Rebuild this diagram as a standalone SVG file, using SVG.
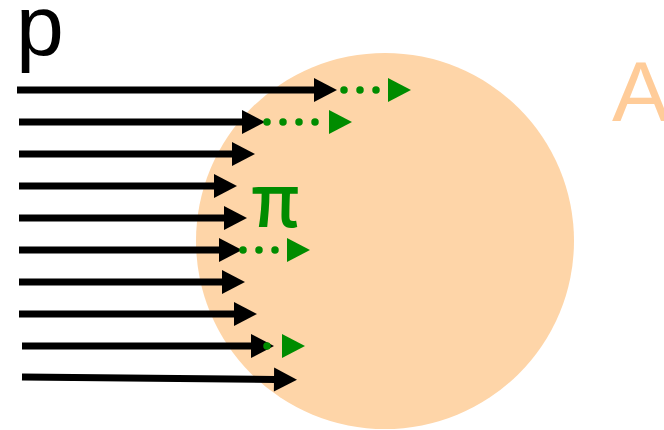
<svg xmlns="http://www.w3.org/2000/svg" width="664" height="430" viewBox="0 0 664 430">
  <defs>
    <marker id="hb" markerUnits="userSpaceOnUse" markerWidth="24" markerHeight="24" refX="1" refY="12" orient="auto" overflow="visible">
      <path d="M0,0 L23,12 L0,24 Z" fill="#000"/>
    </marker>
    <marker id="hg" markerUnits="userSpaceOnUse" markerWidth="24" markerHeight="24" refX="1" refY="12" orient="auto" overflow="visible">
      <path d="M0,0 L23,12 L0,24 Z" fill="#008c00"/>
    </marker>
  </defs>
  <style>
    .ray { stroke: #000; stroke-width: 7; fill: none; marker-end: url(#hb); }
    .out { stroke: #008c00; stroke-width: 7.5; fill: none; stroke-linecap: round; stroke-dasharray: 0 16; marker-end: url(#hg); }
    .lbl { font-family: "Liberation Sans", Arial, sans-serif; font-size: 86px; }
  </style>
  <g id="A">
    <ellipse cx="385" cy="241" rx="189" ry="188" fill="#fed5a8"/>
    <text class="lbl" x="612" y="121" fill="#ffcc99">A</text>
  </g>
  <g id="p">
    <text class="lbl" x="16" y="55" fill="#000">p</text>
  </g>
  <g id="connectors">
    <line class="ray" x1="17" y1="90" x2="315" y2="90"/>
    <line class="ray" x1="19" y1="122" x2="243" y2="122"/>
    <line class="ray" x1="19" y1="154" x2="233" y2="154"/>
    <line class="ray" x1="19" y1="186" x2="215" y2="186"/>
    <line class="ray" x1="19" y1="218" x2="225" y2="218"/>
    <line class="ray" x1="19" y1="250" x2="220" y2="250"/>
    <line class="ray" x1="19" y1="282" x2="223" y2="282"/>
    <line class="ray" x1="19" y1="314" x2="235" y2="314"/>
    <line class="ray" x1="22" y1="346" x2="252" y2="346"/>
    <line class="ray" x1="22" y1="377" x2="275" y2="379.5"/>
    <line class="out" x1="344" y1="90" x2="389" y2="90"/>
    <line class="out" x1="267" y1="122" x2="330" y2="122"/>
    <line class="out" x1="243" y1="250" x2="288" y2="250"/>
    <line class="out" x1="267" y1="346" x2="283" y2="346"/>
  </g>
  <g id="pi">
    <text x="251" y="227" fill="#008c00" font-family="'Noto Sans CJK SC', sans-serif" font-weight="500" font-size="72">π</text>
  </g>
</svg>
